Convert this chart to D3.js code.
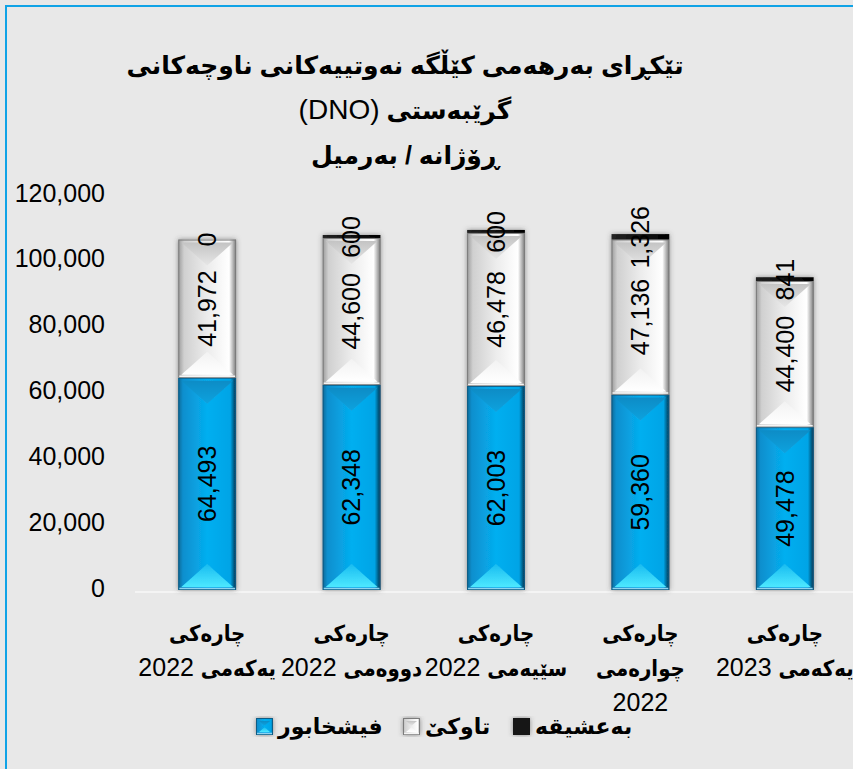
<!DOCTYPE html>
<html>
<head>
<meta charset="utf-8">
<script src="https://cdn.jsdelivr.net/npm/d3@7"></script>
<style>
body { margin: 0; background: #e8e8e8; }
svg { display: block; }
text { font-family: "Liberation Sans", "DejaVu Sans", Arial, sans-serif; }
</style>
</head>
<body>
<script>
//chart data
var categories = ["چارەکی\nیەکەمی 2022", "چارەکی\nدووەمی 2022", "چارەکی\nسێیەمی 2022", "چارەکی\nچوارەمی\n2022", "چارەکی\nیەکەمی 2023"];
var fishkhabur = [64493, 62348, 62003, 59360, 49478];
var tawke = [41972, 44600, 46478, 47136, 44400];
var baeshiqa = [0, 600, 600, 1326, 841];
var seriesNames = ["فیشخابور", "تاوکێ", "بەعشیقه"];
var yTicks = [0, 20000, 40000, 60000, 80000, 100000, 120000];
var titleLines = ["تێکڕای بەرهەمی کێڵگە نەوتییەکانی ناوچەکانی", "گرێبەستی (DNO)", "ڕۆژانە / بەرمیل"];

var width = 853,
    height = 769;

var svg = d3.select("body").append("svg")
    .attr("width", width)
    .attr("height", height);

var defs = svg.append("defs");

//gradients for the bevelled bars
function grad(id, x2, y2, stops) {
    var g = defs.append("linearGradient")
        .attr("id", id)
        .attr("x1", 0).attr("y1", 0)
        .attr("x2", x2).attr("y2", y2);
    stops.forEach(function(s) {
        g.append("stop").attr("offset", s[0]).attr("stop-color", s[1]);
    });
}
grad("blue-base", 1, 0, [["0%", "#0a6a98"], ["8%", "#0a8fce"], ["50%", "#05aff0"], ["90%", "#02a4e6"], ["100%", "#083048"]]);
grad("blue-top", 0, 1, [["0%", "#0b8cc6"], ["100%", "#0ea2de"]]);
grad("blue-bottom", 0, 1, [["0%", "#19bcf0"], ["100%", "#4de8ff"]]);
grad("silver-base", 1, 0, [["0%", "#9c9c9c"], ["10%", "#d0d0d0"], ["50%", "#ececec"], ["88%", "#ffffff"], ["100%", "#7a7a7a"]]);
grad("silver-top", 0, 1, [["0%", "#c4c4c4"], ["100%", "#e6e6e6"]]);
grad("silver-bottom", 0, 1, [["0%", "#f2f2f2"], ["100%", "#ffffff"]]);
grad("black-base", 1, 0, [["0%", "#222"], ["50%", "#111"], ["100%", "#000"]]);

var shadow = defs.append("filter")
    .attr("id", "shadow")
    .attr("x", "-30%").attr("y", "-10%")
    .attr("width", "160%").attr("height", "120%");
shadow.append("feDropShadow")
    .attr("dx", 0).attr("dy", 0)
    .attr("stdDeviation", 2.5)
    .attr("flood-color", "#444")
    .attr("flood-opacity", 0.55);

//background and frame
svg.append("rect")
    .attr("width", width).attr("height", height)
    .attr("fill", "#e8e8e8");
svg.append("path")
    .attr("d", "M6," + height + "V6H" + width)
    .attr("fill", "none")
    .attr("stroke", "#10a3e6")
    .attr("stroke-width", 2);

//scales
var x = d3.scaleBand()
    .domain(categories)
    .range([135, 857])
    .paddingInner(0.6)
    .paddingOuter(0.3);

var y = d3.scaleLinear()
    .domain([0, 120000])
    .range([590, 195]);

//y axis labels
var yAxis = svg.append("g")
    .attr("transform", "translate(105,-2)")
    .call(d3.axisLeft(y).tickValues(yTicks).tickFormat(d3.format(",")).tickSize(0).tickPadding(0));
yAxis.select(".domain").remove();
yAxis.selectAll("text")
    .attr("font-size", 25)
    .attr("fill", "#000")
    .style("font-family", "'Liberation Sans', Arial, sans-serif");

//baseline
svg.append("line")
    .attr("x1", 135).attr("x2", width)
    .attr("y1", y(0) + 2).attr("y2", y(0) + 2)
    .attr("stroke", "#f4f4f4")
    .attr("stroke-width", 2);

//stack data
var keys = ["fishkhabur", "tawke", "baeshiqa"];
var pal = ["blue", "silver", "black"];
var rows = categories.map(function(c, i) {
    return { cat: c, fishkhabur: fishkhabur[i], tawke: tawke[i], baeshiqa: baeshiqa[i] };
});
var stacked = d3.stack().keys(keys)(rows);

//draw a bevelled block
function bevel(g, bx, by, w, h, p) {
    if (h <= 0) return;
    g.append("rect")
        .attr("x", bx).attr("y", by)
        .attr("width", w).attr("height", h)
        .attr("fill", "url(#" + p + "-base)");
    if (h < 8) return;
    var t = Math.min(w * 0.45, h / 2),
        ins = 3;
    g.append("path")
        .attr("d", "M" + (bx + ins) + "," + (by + ins) + "L" + (bx + w - ins) + "," + (by + ins) + "L" + (bx + w / 2) + "," + (by + t) + "Z")
        .attr("fill", "url(#" + p + "-top)");
    g.append("path")
        .attr("d", "M" + (bx + ins) + "," + (by + h - ins) + "L" + (bx + w - ins) + "," + (by + h - ins) + "L" + (bx + w / 2) + "," + (by + h - t) + "Z")
        .attr("fill", "url(#" + p + "-bottom)");
    g.append("rect")
        .attr("x", bx + 0.5).attr("y", by + 0.5)
        .attr("width", w - 1).attr("height", h - 1)
        .attr("fill", "none")
        .attr("stroke", p == "blue" ? "#0a5c85" : "#7c7c7c")
        .attr("stroke-width", 1);
    //light edge line
    g.append("line")
        .attr("x1", bx + 1).attr("x2", bx + w - 1)
        .attr("y1", by + h - 1.5).attr("y2", by + h - 1.5)
        .attr("stroke", p == "blue" ? "#8fd3f0" : "#f4f4f4")
        .attr("stroke-width", 1.5);
}

//bars
var bars = svg.selectAll(".bar")
    .data(categories)
    .enter()
    .append("g")
    .attr("class", "bar")
    .attr("filter", "url(#shadow)");

stacked.forEach(function(layer, li) {
    layer.forEach(function(d, i) {
        var g = d3.select(bars.nodes()[i]);
        var top = y(d[1]), bot = y(d[0]);
        var h = bot - top;
        if (li == 2) {
            if (h > 0) g.append("rect")
                .attr("x", x(categories[i])).attr("y", top - 1)
                .attr("width", x.bandwidth()).attr("height", h + 1)
                .attr("fill", "url(#black-base)");
        } else {
            bevel(g, x(categories[i]), top, x.bandwidth(), h, pal[li]);
        }
    });
});

//value labels
stacked.forEach(function(layer) {
    svg.append("g").selectAll("text")
        .data(layer)
        .enter()
        .append("text")
        .attr("transform", function(d, i) {
            var cx = x(categories[i]) + x.bandwidth() / 2,
                cy = (y(d[0]) + y(d[1])) / 2;
            return "translate(" + cx + "," + cy + ") rotate(-90)";
        })
        .attr("text-anchor", "middle")
        .attr("dy", "0.35em")
        .attr("font-size", 25)
        .attr("fill", "#000")
        .text(function(d) { return d3.format(",")(d[1] - d[0]); });
});

//category labels (arabic words bold and condensed, digits regular)
categories.forEach(function(c, i) {
    c.split("\n").forEach(function(line, li) {
        var t = svg.append("text")
            .attr("x", x(c) + x.bandwidth() / 2)
            .attr("y", 635 + li * 35)
            .attr("dy", "0.35em")
            .attr("text-anchor", "middle")
            .attr("direction", "rtl")
            .style("unicode-bidi", "embed")
            .attr("fill", "#000");
        line.split(" ").forEach(function(w, wi, arr) {
            var num = /[0-9]/.test(w);
            t.append("tspan")
                .attr("font-weight", num ? "normal" : "bold")
                .attr("font-size", num ? 25 : 22)
                .style("font-family", num ? "'Liberation Sans', Arial, sans-serif" : "'DejaVu Sans Condensed', 'DejaVu Sans', sans-serif")
                .text(w + (wi < arr.length - 1 ? " " : ""));
        });
    });
});

//title
titleLines.forEach(function(line, li) {
    var t = svg.append("text")
        .attr("x", 405)
        .attr("y", 68 + li * 45)
        .attr("dy", "0.35em")
        .attr("text-anchor", "middle")
        .attr("direction", "rtl")
        .style("unicode-bidi", "embed")
        .attr("fill", "#000");
    line.split(" ").forEach(function(w, wi, arr) {
        var latin = /[A-Z]/.test(w);
        t.append("tspan")
            .attr("font-weight", latin ? "normal" : "bold")
            .attr("font-size", latin ? 28 : 25)
            .text(w + (wi < arr.length - 1 ? " " : ""));
    });
});

//legend
var legendX = [256, 403, 513];
seriesNames.forEach(function(name, i) {
    var g = svg.append("g").attr("filter", "url(#shadow)");
    if (pal[i] == "black") {
        g.append("rect")
            .attr("x", legendX[i]).attr("y", 718)
            .attr("width", 17).attr("height", 17)
            .attr("fill", "#151515");
    } else {
        bevel(g, legendX[i], 718, 17, 17, pal[i]);
    }
    svg.append("text")
        .attr("x", legendX[i] + 22)
        .attr("y", 726)
        .attr("dy", "0.35em")
        .attr("font-size", 22)
        .attr("font-weight", "bold")
        .attr("fill", "#000")
        .text(name);
});
</script>
</body>
</html>
